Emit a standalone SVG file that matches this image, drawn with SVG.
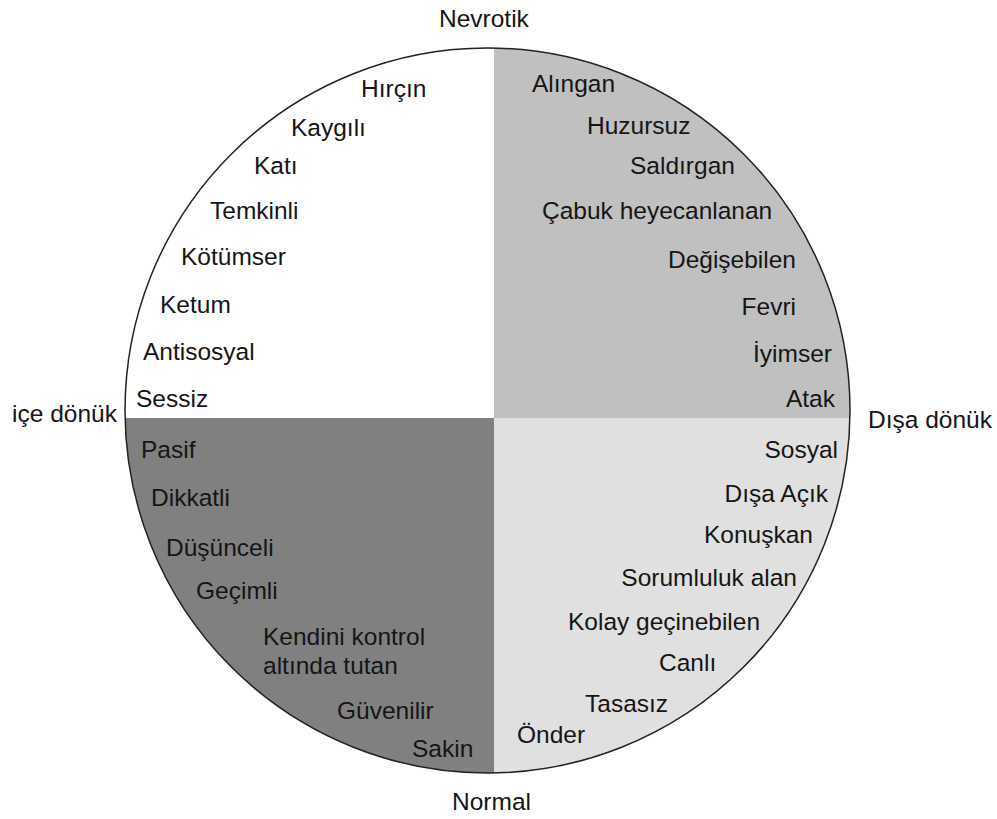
<svg xmlns="http://www.w3.org/2000/svg" width="997" height="819" viewBox="0 0 997 819">
<style>
text{font-family:"Liberation Sans",Arial,sans-serif;font-size:24.5px;fill:#151515}
.e{text-anchor:end}
</style>
<defs>
<clipPath id="c"><circle cx="487.5" cy="410.5" r="362.5"/></clipPath>
</defs>
<rect width="997" height="819" fill="#fff"/>
<g clip-path="url(#c)">
<rect x="100" y="30" width="394" height="388" fill="#ffffff"/>
<rect x="494" y="30" width="400" height="388" fill="#c0c0c0"/>
<rect x="100" y="418" width="394" height="380" fill="#808080"/>
<rect x="494" y="418" width="400" height="380" fill="#e0e0e0"/>
</g>
<circle cx="487.5" cy="410.5" r="362.5" fill="none" stroke="#222" stroke-width="1.5"/>
<g id="axes">
<text x="439" y="27">Nevrotik</text>
<text x="12" y="422">içe dönük</text>
<text x="868" y="428">Dışa dönük</text>
<text x="452" y="810">Normal</text>
</g>
<g id="q-top-left">
<text x="361" y="97">Hırçın</text>
<text x="291" y="136">Kaygılı</text>
<text x="254" y="174">Katı</text>
<text x="210" y="219">Temkinli</text>
<text x="181" y="265">Kötümser</text>
<text x="160" y="313">Ketum</text>
<text x="143" y="360">Antisosyal</text>
<text x="136" y="407">Sessiz</text>
</g>
<g id="q-top-right">
<text x="532" y="92">Alıngan</text>
<text x="587" y="134">Huzursuz</text>
<text x="630" y="174">Saldırgan</text>
<text x="542" y="219">Çabuk heyecanlanan</text>
<text class="e" x="796" y="268">Değişebilen</text>
<text class="e" x="796" y="315">Fevri</text>
<text class="e" x="832" y="362">İyimser</text>
<text class="e" x="835" y="407">Atak</text>
</g>
<g id="q-bottom-left">
<text x="141" y="458">Pasif</text>
<text x="151" y="506">Dikkatli</text>
<text x="166" y="556">Düşünceli</text>
<text x="196" y="599">Geçimli</text>
<text x="263" y="645">Kendini kontrol</text>
<text x="263" y="674">altında tutan</text>
<text x="337" y="719">Güvenilir</text>
<text x="412" y="757">Sakin</text>
</g>
<g id="q-bottom-right">
<text class="e" x="838" y="458">Sosyal</text>
<text class="e" x="828" y="502">Dışa Açık</text>
<text class="e" x="813" y="543">Konuşkan</text>
<text class="e" x="797" y="586">Sorumluluk alan</text>
<text x="568" y="630">Kolay geçinebilen</text>
<text x="659" y="671">Canlı</text>
<text x="585" y="712">Tasasız</text>
<text x="517" y="743">Önder</text>
</g>
</svg>
